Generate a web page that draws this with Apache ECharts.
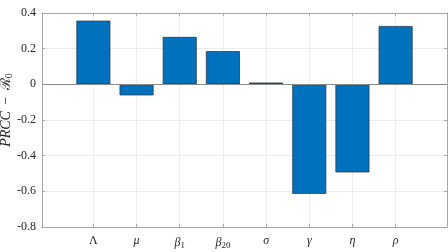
<!DOCTYPE html>
<html>
<head>
<meta charset="utf-8">
<script src="https://cdn.jsdelivr.net/npm/echarts@6/dist/echarts.min.js"></script>
<style>
  html, body { margin: 0; padding: 0; background: #fff; }
  #main { width: 448px; height: 252px; }
</style>
</head>
<body>
<div id="main"></div>
<script>
// parameter names (rich text keys) and PRCC values
var params = ['{u|Λ}', '{i|μ}', '{i|β}{s|1}', '{i|β}{s|20}', '{i|σ}', '{i|γ}', '{i|η}', '{i|ρ}'];
var prcc = [0.357, -0.062, 0.266, 0.186, 0.010, -0.614, -0.494, 0.327];
var yTicks = [-0.8, -0.6, -0.4, -0.2, 0, 0.2, 0.4];

var positions = params.map(function (p, i) { return i + 1; });
var barData = prcc.map(function (v, i) { return [positions[i], v]; });

var serif = '"Liberation Serif", "DejaVu Serif", serif';
var axisGray = '#a6a6a6';
var textCol = '#262626';

var myChart = echarts.init(document.getElementById('main'));

var option = {
    animation: false,
    grid: { left: 42, right: 1, top: 13, bottom: 25, outerBoundsMode: 'none', containLabel: false },
    xAxis: [{
        type: 'value',
        min: -0.19,
        max: 9.19,
        axisLine: { show: true, onZero: false, lineStyle: { color: axisGray } },
        axisTick: { show: true, inside: true, length: 3, customValues: positions, lineStyle: { color: axisGray } },
        splitLine: { show: true, lineStyle: { color: '#ececec' } },
        axisLabel: {
            customValues: positions,
            color: textCol,
            fontFamily: serif,
            fontSize: 12,
            margin: 8,
            formatter: function (v) { return params[Math.round(v) - 1] || ''; },
            rich: {
                u: { fontFamily: serif, fontSize: 12, color: textCol },
                i: { fontFamily: serif, fontSize: 12, fontStyle: 'italic', color: textCol },
                s: { fontFamily: serif, fontSize: 9, color: textCol, verticalAlign: 'bottom', padding: [6, 0, 0, 0] }
            }
        }
    }, {
        type: 'value',
        position: 'top',
        min: -0.19,
        max: 9.19,
        axisLine: { show: true, onZero: false, lineStyle: { color: axisGray } },
        axisTick: { show: true, inside: true, length: 3, customValues: positions, lineStyle: { color: axisGray } },
        splitLine: { show: false },
        axisLabel: { show: false }
    }],
    yAxis: [{
        type: 'value',
        min: -0.8,
        max: 0.4,
        interval: 0.2,
        axisLine: { show: true, onZero: false, lineStyle: { color: axisGray } },
        axisTick: { show: true, inside: true, length: 3, lineStyle: { color: axisGray } },
        splitLine: { show: true, lineStyle: { color: '#ececec' } },
        axisLabel: {
            color: textCol,
            fontFamily: serif,
            fontSize: 12,
            margin: 6,
            formatter: function (v) {
                var r = Math.round(v * 10) / 10;
                return r === 0 ? '0' : String(r);
            }
        },
        name: '{i|PRCC}{m| − }{c|ℛ}{s|0}',
        nameLocation: 'middle',
        nameRotate: 90,
        nameGap: 28,
        nameMoveOverlap: false,
        nameTextStyle: {
            color: textCol,
            fontFamily: serif,
            fontSize: 14,
            verticalAlign: 'bottom',
            padding: [0, 0, 0, 20],
            rich: {
                i: { fontFamily: serif, fontSize: 14, fontStyle: 'italic', color: textCol },
                m: { fontFamily: serif, fontSize: 14, color: textCol, padding: [0, 3, 0, 3] },
                c: { fontFamily: serif, fontSize: 14, color: textCol },
                s: { fontFamily: serif, fontSize: 10, color: textCol, verticalAlign: 'bottom', padding: [6, 0, 0, 0] }
            }
        }
    }, {
        type: 'value',
        position: 'right',
        min: -0.8,
        max: 0.4,
        interval: 0.2,
        axisLine: { show: true, onZero: false, lineStyle: { color: axisGray } },
        axisTick: { show: true, inside: true, length: 3, lineStyle: { color: axisGray } },
        splitLine: { show: false },
        axisLabel: { show: false }
    }],
    series: [{
        type: 'bar',
        xAxisIndex: 0,
        yAxisIndex: 0,
        data: barData,
        barWidth: 34,
        itemStyle: { color: '#0072BD', borderColor: '#2a3d52', borderWidth: 0.8 },
        markLine: {
            silent: true,
            symbol: 'none',
            label: { show: false },
            lineStyle: { color: '#8c8c8c', width: 1, type: 'solid' },
            data: [{ yAxis: 0 }]
        }
    }]
};

myChart.setOption(option);
</script>
</body>
</html>
